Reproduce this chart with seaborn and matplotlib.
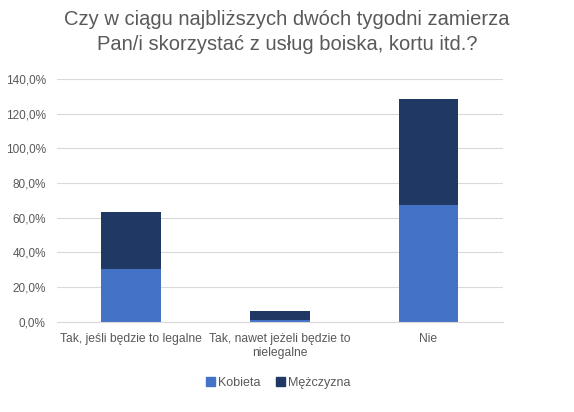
import numpy as np
import pandas as pd
import matplotlib
matplotlib.use("Agg")
import matplotlib.pyplot as plt
import seaborn as sns
from matplotlib.patches import Patch
from matplotlib.ticker import FuncFormatter

# Data (percent)
categories = ["Tak, jeśli będzie to legalne",
              "Tak, nawet jeżeli będzie to\nnielegalne",
              "Nie"]
kobieta = [30.2, 1.3, 67.4]
mezczyzna = [33.3, 4.9, 61.4]

c_kob = "#4472C4"
c_mez = "#203864"
grey = "#595959"

df = pd.DataFrame({"kat": categories, "Kobieta": kobieta, "Mężczyzna": mezczyzna})
df["razem"] = df["Kobieta"] + df["Mężczyzna"]

sns.set_style("white")
plt.rcParams["font.family"] = ["Liberation Sans", "DejaVu Sans"]

fig = plt.figure(figsize=(5.74, 4.12), dpi=100)
ax = fig.add_axes([0.099, 0.219, 0.777, 0.589])

# stacked: total first (dark), then the lower segment on top of it
sns.barplot(data=df, x="kat", y="razem", color=c_mez, width=0.4, ax=ax,
            saturation=1, linewidth=0)
sns.barplot(data=df, x="kat", y="Kobieta", color=c_kob, width=0.4, ax=ax,
            saturation=1, linewidth=0)

ax.set_ylim(0, 140)
ax.set_yticks(np.arange(0, 141, 20))
ax.yaxis.set_major_formatter(FuncFormatter(lambda v, p: f"{v:.1f}%".replace(".", ",")))
ax.grid(axis="y", color="#D9D9D9", linewidth=0.8)
ax.set_axisbelow(True)
for s in ["top", "right", "left"]:
    ax.spines[s].set_visible(False)
ax.spines["bottom"].set_color("#D9D9D9")
ax.tick_params(axis="both", length=0, colors=grey)
ax.tick_params(axis="y", labelsize=8.5, pad=8)
ax.tick_params(axis="x", labelsize=8.7, pad=8)
ax.set_xlabel("")
ax.set_ylabel("")
ax.set_xlim(-0.5, 2.5)

fig.suptitle("Czy w ciągu najbliższych dwóch tygodni zamierza\nPan/i skorzystać z usług boiska, kortu itd.?",
             x=0.5, y=0.975, fontsize=14.5, color=grey, linespacing=1.35)

handles = [Patch(color=c_kob, label="Kobieta"), Patch(color=c_mez, label="Mężczyzna")]
fig.legend(handles=handles, loc="center", bbox_to_anchor=(0.485, 0.07), ncol=2, frameon=False,
           fontsize=9, handlelength=0.7, handleheight=0.7, handletextpad=0.3,
           columnspacing=1.2, labelcolor=grey)

fig.savefig("out.png", dpi=100)
